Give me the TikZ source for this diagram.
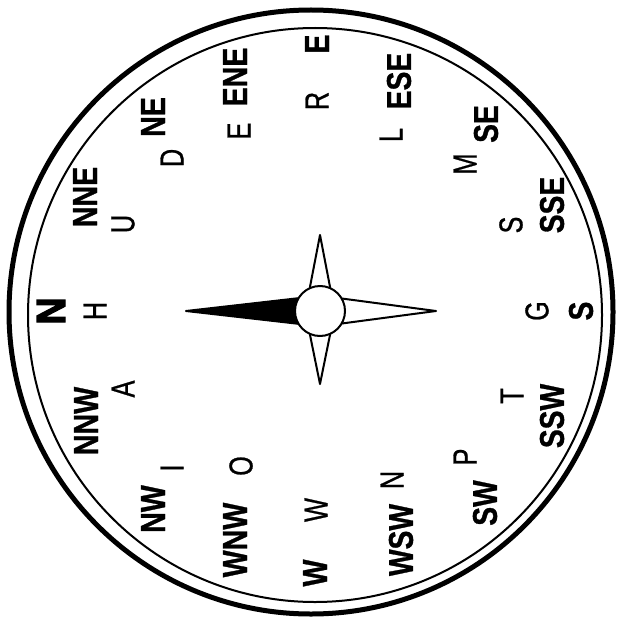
\documentclass[tikz,border=0pt]{standalone}
\usepackage{fontspec}
\usepackage{graphicx}
\setmainfont{Liberation Sans}
\newfontfamily\boldlab{Liberation Sans}[FakeBold=1]
\newfontfamily\heavylab{Liberation Sans}[FakeBold=3]
\newfontfamily\lightlab{Liberation Sans}[FakeBold=0.9]
\newcommand{\cmpbold}[1]{\resizebox{!}{24pt}{\scalebox{0.82}[1]{#1}}}
\newcommand{\cmplight}[1]{\resizebox{!}{23pt}{\scalebox{0.76}[1]{#1}}}
\begin{document}
\begin{tikzpicture}[x=1pt,y=-1pt,
  pt/.style={font=\boldlab\bfseries, inner sep=0pt, rotate=90},
  lt/.style={font=\lightlab, inner sep=0pt, rotate=90},
  arm/.style={draw=black, line width=2pt, line join=round, fill=white}]
\useasboundingbox (0,0) rectangle (620,623);
% rings
\draw[line width=5pt] (311,312) circle[radius=302pt];
\draw[line width=2pt] (315,315) circle[radius=287pt];
% star
\coordinate (c) at (320,311);
\coordinate (tn) at (186,311);
\coordinate (ts) at (436,311);
\coordinate (te) at (320,235);
\coordinate (tw) at (320,384);
\filldraw[line width=2pt, line join=round] (tn) -- (300,298) -- (300,324) -- cycle;
\draw[arm] (ts) -- (338,298) -- (338,324) -- cycle;
\draw[arm] (te) -- (309,292) -- (331,292) -- cycle;
\draw[arm] (tw) -- (309,330) -- (331,330) -- cycle;
\draw[arm] (c) circle[radius=25pt];
% cardinal / intercardinal labels
\node[pt, font=\heavylab\bfseries] (N) at (51,311) {\resizebox{!}{28pt}{\scalebox{0.92}[1]{N}}};
\node[pt] (NNE) at (85,197) {\cmpbold{NNE}};
\node[pt] (NE) at (153,117) {\cmpbold{NE}};
\node[pt] (ENE) at (235,77) {\cmpbold{ENE}};
\node[pt] (E) at (317,44) {\cmpbold{E}};
\node[pt] (ESE) at (399,81) {\cmpbold{ESE}};
\node[pt] (SE) at (486,124) {\cmpbold{SE}};
\node[pt] (SSE) at (552,205) {\cmpbold{SSE}};
\node[pt] (S) at (581,311) {\cmpbold{S}};
\node[pt] (SSW) at (552,416) {\cmpbold{SSW}};
\node[pt] (SW) at (485,503) {\cmpbold{SW}};
\node[pt] (WSW) at (401,540) {\cmpbold{WSW}};
\node[pt] (W) at (315,573) {\cmpbold{W}};
\node[pt] (WNW) at (235,540) {\cmpbold{WNW}};
\node[pt] (NW) at (153,509) {\cmpbold{NW}};
\node[pt] (NNW) at (86,421) {\cmpbold{NNW}};
% letters
\node[lt] (lH) at (95,311) {\cmplight{H}};
\node[lt] (lU) at (123,224) {\cmplight{U}};
\node[lt] (lD) at (172,158) {\cmplight{D}};
\node[lt] (lE) at (239,131) {\cmplight{E}};
\node[lt] (lR) at (317,101) {\cmplight{R}};
\node[lt] (lL) at (391,135) {\cmplight{L}};
\node[lt] (lM) at (465,164) {\cmplight{M}};
\node[lt] (lS) at (511,225) {\cmplight{S}};
\node[lt] (lG) at (537,311) {\cmplight{G}};
\node[lt] (lT) at (512,396) {\cmplight{T}};
\node[lt] (lP) at (465,457) {\cmplight{P}};
\node[lt] (lN) at (392,480) {\cmplight{N}};
\node[lt] (lW) at (316,510) {\cmplight{W}};
\node[lt] (lO) at (241,466) {\cmplight{O}};
\node[lt] (lI) at (172,468) {\cmplight{I}};
\node[lt] (lA) at (123,389) {\cmplight{A}};
\end{tikzpicture}
\end{document}
